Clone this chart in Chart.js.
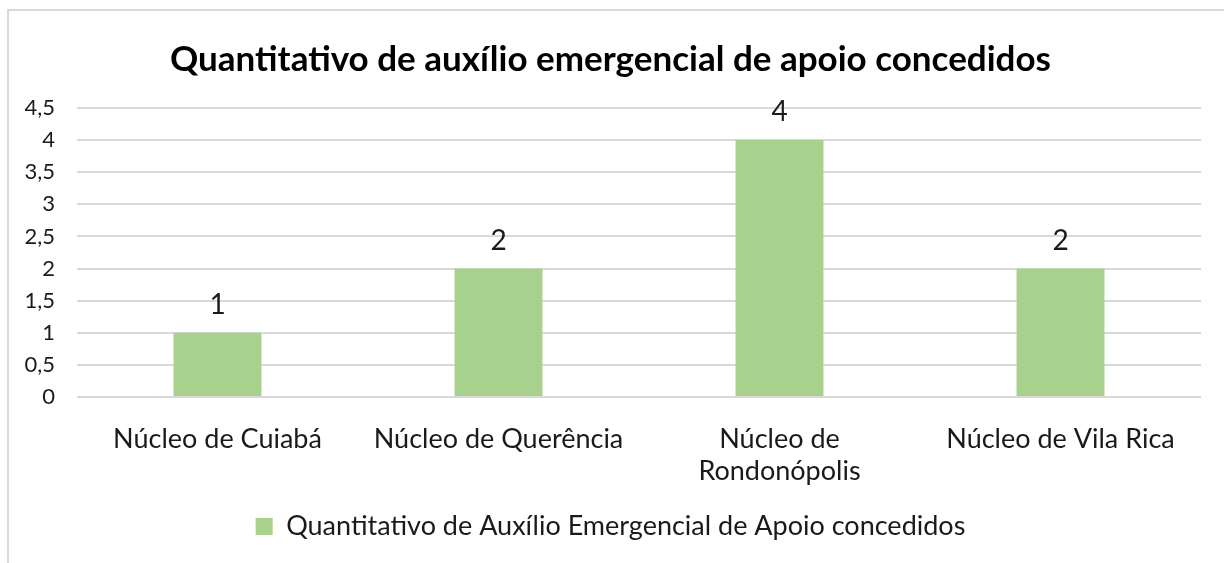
<!DOCTYPE html>
<html>
<head>
<meta charset="utf-8">
<script src="https://cdn.jsdelivr.net/npm/chart.js@4"></script>
<style>
  html, body { margin: 0; padding: 0; background: #fff; overflow: hidden; }
  #wrap { position: relative; width: 1224px; height: 563px; }
  #frame { position: absolute; left: 7px; top: 9px; width: 1300px; height: 700px;
           border-top: 2px solid #d9d9d9; border-left: 2px solid #d9d9d9; pointer-events: none; }
</style>
</head>
<body>
<div id="wrap">
  <canvas id="chart" width="1224" height="563"></canvas>
  <div id="frame"></div>
</div>
<script>
const categories = ['Núcleo de Cuiabá', 'Núcleo de Querência', ['Núcleo de', 'Rondonópolis'], 'Núcleo de Vila Rica'];
const values = [1, 2, 4, 2];
const seriesName = 'Quantitativo de Auxílio Emergencial de Apoio concedidos';
const chartTitle = 'Quantitativo de auxílio emergencial de apoio concedidos';

const FONT = 'Lato, "Open Sans", sans-serif';
const TEXT = '#1a1a1a';

// rótulos de dados acima das barras
const barLabels = {
    id: 'barLabels',
    afterDatasetsDraw(chart) {
        const ctx = chart.ctx;
        ctx.save();
        ctx.font = '28px ' + FONT;
        ctx.fillStyle = TEXT;
        ctx.textAlign = 'center';
        ctx.textBaseline = 'middle';
        chart.getDatasetMeta(0).data.forEach(function (bar, i) {
            ctx.fillText(String(values[i]), bar.x, bar.y - 28);
        });
        ctx.restore();
    }
};

new Chart(document.getElementById('chart').getContext('2d'), {
    type: 'bar',
    data: {
        labels: categories,
        datasets: [{
            label: seriesName,
            data: values,
            backgroundColor: '#a9d18e',
            categoryPercentage: 1,
            barPercentage: 0.313
        }]
    },
    options: {
        responsive: false,
        animation: false,
        layout: { padding: { left: 20, right: 23, top: 0, bottom: 13 } },
        plugins: {
            title: {
                display: true,
                text: chartTitle,
                color: '#000',
                font: { family: FONT, size: 35, weight: 'bold', lineHeight: 1.2 },
                padding: { top: 39, bottom: 27 }
            },
            legend: {
                position: 'bottom',
                labels: {
                    color: TEXT,
                    font: { family: FONT, size: 27 },
                    boxWidth: 17,
                    boxHeight: 17,
                    padding: 26
                }
            },
            tooltip: { enabled: false }
        },
        scales: {
            y: {
                min: 0,
                max: 4.5,
                ticks: {
                    stepSize: 0.5,
                    color: TEXT,
                    padding: 22,
                    font: { family: FONT, size: 22 },
                    callback: v => String(v).replace('.', ',')
                },
                grid: { color: '#d9d9d9', lineWidth: 2, drawTicks: false },
                border: { display: false },
                afterFit: s => { s.width = 57; }
            },
            x: {
                ticks: {
                    color: TEXT,
                    padding: 26,
                    maxRotation: 0,
                    autoSkip: false,
                    font: { family: FONT, size: 27, lineHeight: 1.19 }
                },
                grid: { display: false, drawTicks: false },
                border: { display: false },
                afterFit: s => { s.height = 90; }
            }
        }
    },
    plugins: [barLabels]
});
</script>
</body>
</html>
